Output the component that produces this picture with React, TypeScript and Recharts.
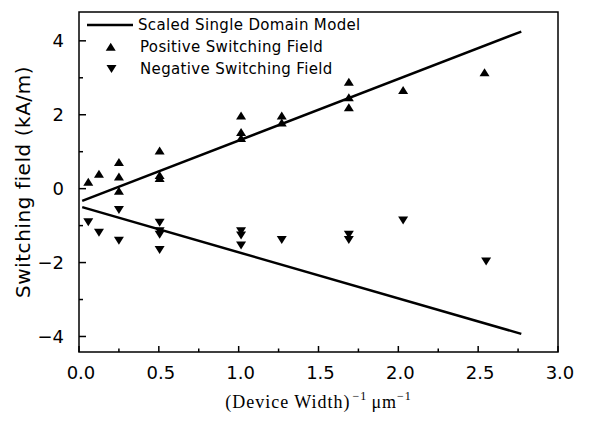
import React from "react";
import { ScatterChart, Scatter, XAxis, YAxis, ReferenceArea, Legend } from "recharts";

// Model lines (Scaled Single Domain Model)
const modelX = [0.02, 2.77];
const modelUpperY = [-0.33, 4.25];
const modelLowerY = [-0.5, -3.93];

// Positive switching field points
const positiveX = [0.058, 0.125, 0.25, 0.25, 0.25, 0.505, 0.505, 0.505, 1.015, 1.015, 1.015, 1.27, 1.27, 1.69, 1.69, 1.69, 2.03, 2.54];
const positiveY = [0.19, 0.40, 0.72, 0.33, -0.06, 1.03, 0.37, 0.29, 1.98, 1.53, 1.37, 1.98, 1.79, 2.89, 2.47, 2.2, 2.67, 3.15];

// Negative switching field points
const negativeX = [0.058, 0.125, 0.25, 0.25, 0.505, 0.505, 0.505, 0.505, 1.015, 1.015, 1.015, 1.27, 1.69, 1.69, 2.03, 2.55];
const negativeY = [-0.91, -1.19, -0.58, -1.41, -0.92, -1.15, -1.25, -1.66, -1.15, -1.27, -1.54, -1.39, -1.25, -1.39, -0.86, -1.97];

const xTicks = [0, 0.25, 0.5, 0.75, 1, 1.25, 1.5, 1.75, 2, 2.25, 2.5, 2.75, 3];
const yTicks = [-4, -3, -2, -1, 0, 1, 2, 3, 4];
const xDomain: [number, number] = [0, 3];
const yDomain: [number, number] = [-4.42, 4.78];

const seriesNames = ["Scaled Single Domain Model", "Positive Switching Field", "Negative Switching Field"];
const yTitle = "Switching field (kA/m)";

const zip = (xs: number[], ys: number[]) => xs.map((x, i) => ({ x, y: ys[i] }));
const upperLine = zip(modelX, modelUpperY);
const lowerLine = zip(modelX, modelLowerY);
const positiveData = zip(positiveX, positiveY);
const negativeData = zip(negativeX, negativeY);

const SANS = "DejaVu Sans";

const UpTri = (p: any) => {
  const { cx, cy } = p;
  if (cx == null || cy == null) return <g />;
  return <polygon points={`${cx - 5},${cy + 4} ${cx + 5},${cy + 4} ${cx},${cy - 4}`} fill="#000" />;
};
const DownTri = (p: any) => {
  const { cx, cy } = p;
  if (cx == null || cy == null) return <g />;
  return <polygon points={`${cx - 5},${cy - 4} ${cx + 5},${cy - 4} ${cx},${cy + 4}`} fill="#000" />;
};
const NoShape = () => <g />;

const fmtNum = (v: number, d: number) => (v < 0 ? "\u2212" + Math.abs(v).toFixed(d) : v.toFixed(d));

const XTick = (props: any) => {
  const { x, y, payload } = props;
  const v = payload.value;
  const major = Math.abs(v * 2 - Math.round(v * 2)) < 1e-6;
  return (
    <g>
      <line x1={x} x2={x} y1={y} y2={y - (major ? 6 : 3.5)} stroke="#000" strokeWidth={1.5} />
      {major && (
        <text x={x + 2} y={y + 27} textAnchor="middle" fontFamily={SANS} fontSize={18} fill="#000">
          {fmtNum(v, 1)}
        </text>
      )}
    </g>
  );
};

const YTick = (props: any) => {
  const { x, y, payload } = props;
  const v = payload.value;
  const major = Math.round(v) % 2 === 0;
  return (
    <g>
      <line x1={x} x2={x + (major ? 7 : 4)} y1={y} y2={y} stroke="#000" strokeWidth={1.5} />
      {major && (
        <text x={x - 15} y={y + 6.5} textAnchor="end" fontFamily={SANS} fontSize={18} fill="#000">
          {fmtNum(v, 0)}
        </text>
      )}
    </g>
  );
};

const YTitle = (props: any) => {
  const vb = props.viewBox || { x: 0, y: 4, width: 71, height: 340 };
  const cx = vb.x + 14.5;
  const cy = vb.y + vb.height / 2;
  return (
    <text
      x={cx}
      y={cy}
      transform={`rotate(-90 ${cx} ${cy})`}
      textAnchor="middle"
      dominantBaseline="central"
      fontFamily={SANS}
      fontSize={20}
      letterSpacing={0.55}
      fill="#000"
    >
      {yTitle}
    </text>
  );
};

const XTitle = (props: any) => {
  const vb = props.viewBox || { x: 71, y: 344, width: 479, height: 64 };
  const cx = vb.x + vb.width / 2;
  const by = vb.y + 56;
  return (
    <text x={cx} y={by} textAnchor="middle" fontFamily="Liberation Serif" fontSize={18} fill="#000" letterSpacing={1}>
      <tspan>(Device Width)</tspan>
      <tspan fontSize={12} dy={-8} dx={2}>{"\u22121"}</tspan>
      <tspan fontSize={18} dy={8} dx={4}>{"\u03BCm"}</tspan>
      <tspan fontSize={12} dy={-8}>{"\u22121"}</tspan>
    </text>
  );
};

const LegendBox = () => (
  <svg width={320} height={70} style={{ display: "block" }}>
    <line x1={1} x2={47} y1={9} y2={9} stroke="#000" strokeWidth={2.5} />
    <text x={52} y={13.5} fontFamily={SANS} fontSize={15} letterSpacing={0.35} fill="#000">
      {seriesNames[0]}
    </text>
    <UpTri cx={24.7} cy={30.7} />
    <text x={54} y={35.7} fontFamily={SANS} fontSize={15} letterSpacing={0.35} fill="#000">
      {seriesNames[1]}
    </text>
    <DownTri cx={25.5} cy={53} />
    <text x={54} y={57.5} fontFamily={SANS} fontSize={15} letterSpacing={0.35} fill="#000">
      {seriesNames[2]}
    </text>
  </svg>
);

export default function App() {
  return (
    <ScatterChart width={578} height={408} margin={{ top: 4, right: 28, bottom: 0, left: 0 }}>
      <XAxis
        dataKey="x"
        type="number"
        domain={xDomain}
        ticks={xTicks}
        interval={0}
        allowDataOverflow
        axisLine={false}
        tickLine={false}
        tickSize={0}
        tickMargin={0}
        tick={<XTick />}
        height={64}
        label={<XTitle />}
      />
      <YAxis
        dataKey="y"
        type="number"
        domain={yDomain}
        ticks={yTicks}
        interval={0}
        allowDataOverflow
        axisLine={false}
        tickLine={false}
        tickSize={0}
        tickMargin={0}
        tick={<YTick />}
        width={71}
        label={<YTitle />}
      />
      <ReferenceArea
        x1={xDomain[0]}
        x2={xDomain[1]}
        y1={yDomain[0]}
        y2={yDomain[1]}
        fill="none"
        fillOpacity={0}
        stroke="#000"
        strokeWidth={1.5}
        ifOverflow="visible"
      />
      <Legend
        layout="vertical"
        align="center"
        verticalAlign="middle"
        wrapperStyle={{ left: 78, top: 8, width: 320, height: 70 }}
        content={() => <LegendBox />}
      />
      <Scatter name={seriesNames[0]} data={upperLine} line={{ stroke: "#000", strokeWidth: 2.5 }} shape={<NoShape />} isAnimationActive={false} legendType="none" />
      <Scatter name={seriesNames[0] + " (lower)"} data={lowerLine} line={{ stroke: "#000", strokeWidth: 2.5 }} shape={<NoShape />} isAnimationActive={false} legendType="none" />
      <Scatter name={seriesNames[1]} data={positiveData} shape={<UpTri />} fill="#000" isAnimationActive={false} />
      <Scatter name={seriesNames[2]} data={negativeData} shape={<DownTri />} fill="#000" isAnimationActive={false} />
    </ScatterChart>
  );
}
